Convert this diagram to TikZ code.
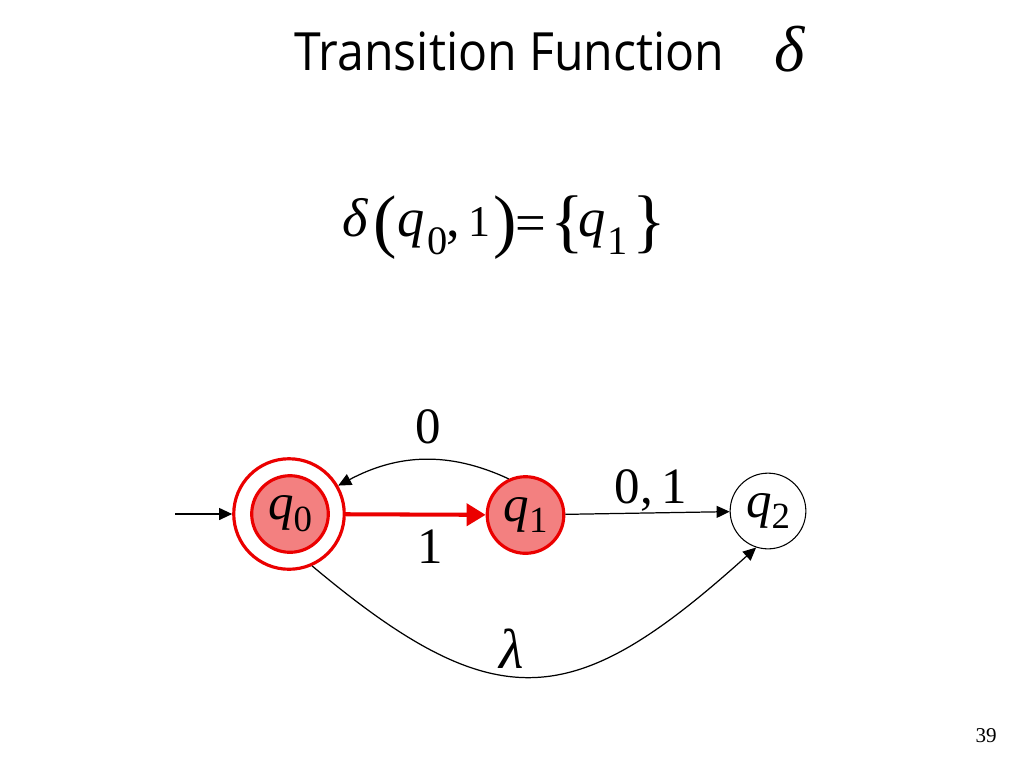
\documentclass[tikz,border=0pt]{standalone}
\usepackage{fontspec}
\usepackage{graphicx}
\setmainfont{Liberation Serif}
\newfontfamily\titlefont{Open Sans}
\usetikzlibrary{arrows.meta}
\newlength\px
\setlength\px{0.5669pt}
\definecolor{stfill}{RGB}{243,128,128}
\definecolor{stred}{RGB}{235,0,0}
\newcommand\Lsz{\fontsize{31}{36}\selectfont}
\newcommand\Dsz{\fontsize{23}{27}\selectfont}
\newcommand\Asz{\fontsize{25}{29}\selectfont}
\newcommand\Psz{\fontsize{40}{44}\selectfont}
\newcommand\nodeq[1]{{\fontsize{29}{34}\selectfont\itshape q}\raisebox{-12\px}{\fontsize{21}{24}\selectfont #1}}
\newcommand\bx[2]{\makebox[#1\px][l]{#2}}
\tikzset{
  accst/.style={circle, draw=stred, line width=1.8pt, fill=stfill, minimum size=43.6pt, inner sep=0pt},
  ringst/.style={circle, draw=stred, line width=1.8pt, minimum size=62.9pt, inner sep=0pt},
  plainst/.style={circle, draw=black, line width=0.6pt, fill=white, minimum size=43.1pt, inner sep=0pt},
  arr/.style={-{Triangle[length=7.4pt,width=6.8pt]}, line width=0.7pt, black},
  redarr/.style={-{Triangle[length=10.8pt,width=12.5pt]}, line width=2.3pt, stred},
  lbl/.style={anchor=base, inner sep=0pt, font=\fontsize{29}{34}\selectfont}
}
\begin{document}
\begin{tikzpicture}[x=0.02cm,y=-0.02cm]
\useasboundingbox (0,0) rectangle (1024,768);
\fill[white] (0,0) rectangle (1024,768);

% title
\node[anchor=base west, inner sep=0pt, font=\titlefont\fontsize{30}{36}\selectfont] (title) at (294,70) {\scalebox{0.915}[1]{Transition Function}};
\node[anchor=base west, inner sep=0pt] (tdelta) at (774,71) {\fontsize{37}{42}\selectfont\itshape δ};

% equation
\node[anchor=base west, inner sep=0pt] (eq) at (342,236) {%
\bx{31}{\Lsz\itshape δ}\bx{24}{\raisebox{-9\px}{\Psz (}}\bx{30}{\Lsz\itshape q}\bx{20}{\raisebox{-19\px}{\Dsz 0}}\bx{22}{\Lsz ,}\bx{25}{\Asz 1}\bx{22}{\raisebox{-9\px}{\Psz )}}\bx{35}{\raisebox{-6\px}{\Lsz =}}\bx{28}{\raisebox{-9\px}{\Psz \{}}\bx{29}{\Lsz\itshape q}\bx{25}{\raisebox{-19\px}{\Dsz 1}}\raisebox{-9\px}{\Psz \}}};

% states
\node[ringst] (q0ring) at (289,514) {};
\node[accst] (q0) at (290,514) {\nodeq{0}};
\node[accst] (q1) at (525.5,515) {\nodeq{1}};
\node[plainst] (q2) at (768,511) {\nodeq{2}};

% edges
\coordinate (start) at (175,514);
\draw[arr] (start) -- (q0ring);
\draw[redarr] (q0ring) -- (q1);
\draw[arr] (q1) -- (q2);
\draw[arr] (q1.115) to[out=155,in=28] (q0ring.30);
\draw[arr] (q0ring.-66) to[out=-40,in=-138,looseness=1.4] (q2.-108);

% labels
\node[lbl] (l0) at (428,443) {0};
\node[lbl] (l1) at (430,563) {1};
\node[lbl] (l01) at (651,503) {0,\,1};
\node[anchor=base, inner sep=0pt] (llam) at (512,668) {\fontsize{32}{36}\selectfont\itshape λ};

% page number
\node[anchor=base east, inner sep=0pt, font=\fontsize{12}{14}\selectfont] (pg) at (997,742) {39};
\end{tikzpicture}
\end{document}
